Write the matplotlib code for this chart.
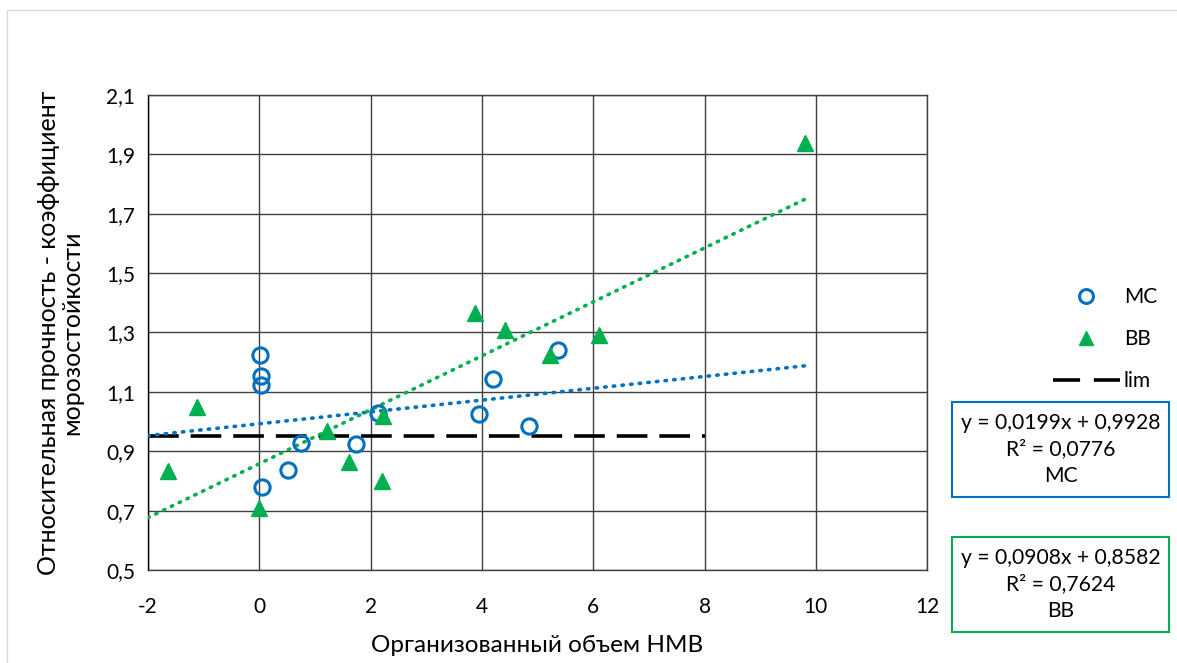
import numpy as np
import matplotlib; matplotlib.use('Agg')
import matplotlib.pyplot as plt
from matplotlib.patches import Rectangle
from matplotlib.lines import Line2D
from matplotlib.ticker import FuncFormatter

plt.rcParams['font.family'] = ['Lato', 'DejaVu Sans']

BLUE = "#0070C0"
GREEN = "#00B050"

# МС
mc_x = [0.01, 0.04, 0.04, 0.75, 1.74, 0.51, 0.05, 2.13, 4.20, 3.94, 4.84, 5.37]
mc_y = [1.223, 1.152, 1.124, 0.928, 0.925, 0.838, 0.780, 1.029, 1.143, 1.027, 0.984, 1.240]
# ВВ
bb_x = [-1.12, -1.64, -0.01, 1.22, 1.62, 2.21, 2.23, 3.88, 4.42, 6.10, 5.22, 9.80]
bb_y = [1.049, 0.835, 0.710, 0.967, 0.863, 0.799, 1.018, 1.365, 1.309, 1.292, 1.223, 1.938]

# линии тренда (из подписей)
mc_k, mc_b, mc_r2 = 0.0199, 0.9928, 0.0776
bb_k, bb_b, bb_r2 = 0.0908, 0.8582, 0.7624
trend_x = [-2, 9.8]

lim_x = [-2, 8]
lim_y = 0.95

fig = plt.figure(figsize=(11.77, 6.63), dpi=100)
ax = fig.add_axes([0.1257, 0.140, 0.662, 0.717])

tx = np.array(trend_x)
ax.plot(tx, mc_k * tx + mc_b, color=BLUE, lw=2.6, linestyle=(0, (0.4, 2.0)),
        dash_capstyle='round', zorder=3)
ax.plot(tx, bb_k * tx + bb_b, color=GREEN, lw=2.6, linestyle=(0, (0.4, 2.0)),
        dash_capstyle='round', zorder=3)
ax.plot(lim_x, [lim_y, lim_y], color='black', lw=2.6, linestyle=(0, (8.5, 3.3)), zorder=2)

ax.plot(mc_x, mc_y, 'o', ms=11, mfc='none', mec=BLUE, mew=2.2, zorder=4)
ax.plot(bb_x, bb_y, '^', ms=11.5, color=GREEN, mec=GREEN, zorder=4)

ax.set_xlim(-2, 12)
ax.set_ylim(0.5, 2.1)
ax.set_xticks(np.arange(-2, 13, 2))
ax.set_yticks(np.arange(0.5, 2.11, 0.2))
ax.yaxis.set_major_formatter(FuncFormatter(lambda v, p: f"{v:.1f}".replace('.', ',')))
ax.xaxis.set_major_formatter(FuncFormatter(lambda v, p: f"{v:.0f}"))
ax.tick_params(length=0, labelsize=15)
ax.tick_params(axis='x', pad=19)
ax.tick_params(axis='y', pad=9)
ax.grid(True, color='#404040', lw=1.0)
ax.set_axisbelow(True)
for s in ax.spines.values():
    s.set_color('#404040')
    s.set_linewidth(1.0)
ax.spines['left'].set_color('black')

ax.set_xlabel("Организованный объем НМВ", fontsize=17.5, labelpad=13)
ax.set_ylabel("Относительная прочность - коэффициент\nморозостойкости", fontsize=18,
              labelpad=17, linespacing=1.0)

handles = [
    Line2D([], [], marker='o', ls='none', ms=10, mfc='none', mec=BLUE, mew=2.2),
    Line2D([], [], marker='^', ls='none', ms=10, color=GREEN),
    Line2D([], [], color='black', lw=2.6, linestyle=(0, (7.5, 3.8))),
]
fig.legend(handles, ["МС", "ВВ", "lim"], loc='upper left', bbox_to_anchor=(1053 / 1177, 0.567),
           frameon=False, fontsize=15, handlelength=3.2, labelspacing=1.05,
           handletextpad=0.2, borderpad=0, borderaxespad=0)

# подписи линий тренда
def eq_box(y_top, k, b, r2, name, color):
    x0, x1 = 952 / 1177, 1169 / 1177
    h = 95 / 663
    y0 = 1 - y_top / 663 - h
    fig.patches.append(Rectangle((x0, y0), x1 - x0, h, transform=fig.transFigure,
                                 fill=False, edgecolor=color, lw=1.5))
    txt = (f"y = {k:.4f}x + {b:.4f}".replace('.', ',') + "\n"
           + f"R² = {r2:.4f}".replace('.', ',') + "\n" + name)
    fig.text((x0 + x1) / 2, y0 + h / 2, txt, ha='center', va='center', fontsize=15.2,
             linespacing=1.4)

eq_box(402, mc_k, mc_b, mc_r2, "МС", BLUE)
eq_box(537, bb_k, bb_b, bb_r2, "ВВ", GREEN)

fig.patches.append(Rectangle((7 / 1177, -0.01), 1.0, 1 - 10 / 663 + 0.01,
                             transform=fig.transFigure, fill=False,
                             edgecolor='#d9d9d9', lw=1.0))

fig.savefig("out.png", dpi=100)
